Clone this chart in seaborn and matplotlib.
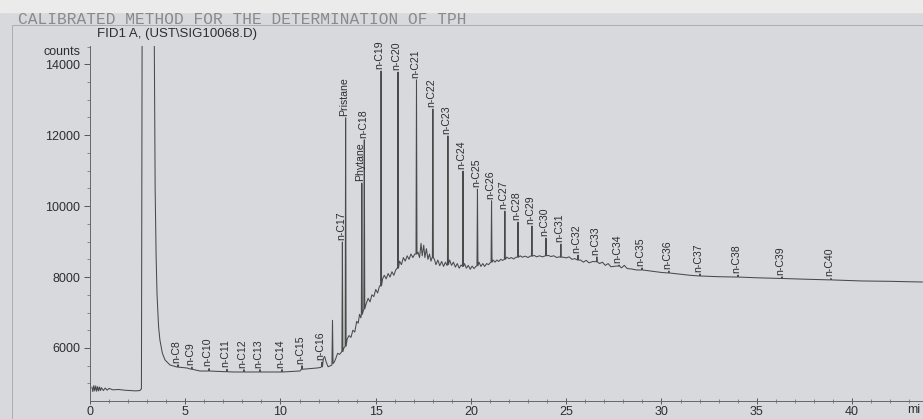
import pandas as pd
import seaborn as sns
import matplotlib.pyplot as plt
from matplotlib.ticker import MultipleLocator
from matplotlib.patches import Rectangle

# baseline of the FID trace (retention time in min, counts)
base_t = [0.10, 0.15, 0.20, 0.25, 0.30, 0.35, 0.40, 0.45, 0.50, 0.55, 0.60, 0.70, 0.80, 0.90, 1.00,
          1.20, 1.50, 1.80, 2.10, 2.40, 2.62, 2.70, 2.74, 3.36, 3.42, 3.47, 3.52, 3.60, 3.67, 3.80,
          3.94, 4.20, 5.09, 5.77, 7.50, 9.60, 11.02, 11.92, 12.10, 12.25, 12.32, 12.40, 12.50, 12.62,
          12.70, 12.73, 12.76, 12.82, 12.90, 13.00, 13.10, 13.18, 13.33, 13.50, 13.60, 13.70, 13.80,
          13.90, 14.00, 14.08, 14.15, 14.22, 14.50, 14.60, 14.70, 14.80, 14.90, 15.00, 15.10, 15.20,
          15.36, 15.45, 15.55, 15.65, 15.75, 15.85, 15.95, 16.05, 16.12, 16.25, 16.35, 16.45, 16.55,
          16.65, 16.75, 16.85, 16.95, 17.05, 17.22, 17.30, 17.38, 17.44, 17.52, 17.58, 17.66, 17.74,
          17.82, 17.90, 17.96, 18.08, 18.16, 18.26, 18.36, 18.46, 18.56, 18.66, 18.74, 18.88, 18.98,
          19.08, 19.18, 19.28, 19.38, 19.48, 19.66, 19.76, 19.86, 19.96, 20.06, 20.16, 20.26, 20.42,
          20.52, 20.62, 20.72, 20.82, 20.92, 21.00, 21.16, 21.26, 21.36, 21.46, 21.56, 21.66, 21.88,
          22.00, 22.12, 22.24, 22.36, 22.58, 22.70, 22.85, 23.00, 23.10, 23.32, 23.45, 23.60, 23.75,
          24.06, 24.20, 24.35, 24.50, 24.62, 24.85, 25.00, 25.15, 25.30, 25.45, 25.75, 25.90, 26.05,
          26.20, 26.40, 26.75, 26.90, 27.05, 27.20, 27.35, 27.50, 27.62, 27.90, 28.05, 28.20, 28.40,
          28.70, 29.30, 29.70, 30.00, 31.00, 31.50, 33.00, 35.00, 37.50, 40.50, 42.00, 43.70]
base_c = [4900, 4770, 4940, 4790, 4930, 4780, 4910, 4790, 4900, 4800, 4880, 4800, 4870, 4810, 4860,
          4820, 4830, 4810, 4800, 4790, 4800, 4850, 16000, 16000, 10500, 8600, 7500, 6600, 6226, 5850,
          5662, 5520, 5436, 5351, 5323, 5323, 5351, 5436, 5450, 5700, 5760, 5600, 5470, 5500,
          5520, 6780, 5560, 5600, 5700, 5850, 5820, 5870, 6000, 6250, 6350, 6300, 6500,
          6450, 6750, 6700, 6950, 6850, 7250, 7400, 7300, 7500, 7450, 7650, 7550, 7750,
          7950, 8050, 7950, 8100, 8000, 8150, 8050, 8200, 8250, 8450, 8350, 8550, 8450,
          8600, 8500, 8650, 8550, 8650, 8700, 8550, 8950, 8600, 8900, 8550, 8800, 8500,
          8650, 8450, 8550, 8500, 8350, 8480, 8320, 8440, 8300, 8420, 8330, 8480, 8330,
          8420, 8280, 8380, 8250, 8340, 8380, 8250, 8330, 8220, 8310, 8240, 8300, 8420,
          8300, 8380, 8300, 8380, 8350, 8400, 8480, 8420, 8480, 8440, 8500, 8470, 8560,
          8520, 8550, 8510, 8560, 8600, 8560, 8590, 8550, 8590, 8610, 8570, 8600, 8570,
          8610, 8580, 8600, 8550, 8570, 8560, 8540, 8570, 8500, 8520, 8480, 8420, 8470,
          8400, 8440, 8380, 8420, 8330, 8380, 8290, 8300, 8310, 8260, 8330, 8240, 8230,
          8200, 8180, 8150, 8130, 8080, 8050, 8010, 7980, 7940, 7890, 7880, 7860]

# named peaks: retention time, foot and apex (counts)
peak_names = ["n-C8", "n-C9", "n-C10", "n-C11", "n-C12", "n-C13", "n-C14", "n-C15", "n-C16",
              "n-C17", "Pristane", "Phytane", "n-C18", "n-C19", "n-C20", "n-C21", "n-C22", "n-C23",
              "n-C24", "n-C25", "n-C26", "n-C27", "n-C28", "n-C29", "n-C30", "n-C31", "n-C32",
              "n-C33", "n-C34", "n-C35", "n-C36", "n-C37", "n-C38", "n-C39", "n-C40"]
peak_t = [4.62, 5.35, 6.25, 7.19, 8.08, 8.92, 10.08, 11.13, 12.18,
          13.25, 13.42, 14.27, 14.40, 15.28, 16.17, 17.14, 18.00, 18.79,
          19.58, 20.34, 21.08, 21.78, 22.47, 23.20, 23.94, 24.72, 25.62,
          26.61, 27.77, 28.98, 30.39, 32.02, 34.02, 36.33, 38.90]
peak_foot = [5460, 5400, 5350, 5330, 5323, 5323, 5323, 5400, 5470,
             5900, 6050, 6950, 7100, 7750, 8250, 8650, 8550, 8350,
             8300, 8320, 8420, 8500, 8560, 8590, 8600, 8560, 8480,
             8430, 8310, 8200, 8115, 8030, 8000, 7960, 7920]
peak_top = [5530, 5460, 5420, 5400, 5390, 5390, 5390, 5500, 5600,
            8990, 12490, 10650, 11870, 13810, 13780, 13560, 12740, 11980,
            10990, 10480, 10150, 9860, 9550, 9440, 9100, 8930, 8620,
            8570, 8340, 8260, 8170, 8090, 8060, 8010, 7960]

# build the trace: baseline points plus a narrow spike for every named peak
rows = list(zip(base_t, base_c))
for t, f, top in zip(peak_t, peak_foot, peak_top):
    rows += [(t - 0.025, f), (t, top), (t + 0.025, f)]
trace = pd.DataFrame(rows, columns=["time", "counts"]).sort_values("time")

sns.set_style("ticks")
plt.rcParams["font.family"] = ["Liberation Sans", "DejaVu Sans"]
ink = "#2e2e2e"
paper = "#d7d9dc"

fig = plt.figure(figsize=(9.23, 4.19), dpi=100, facecolor=paper)
fig.patches.append(Rectangle((0, 1 - 12 / 419), 1, 12 / 419, transform=fig.transFigure,
                             color="#ebebeb", zorder=0))
fig.add_artist(plt.Line2D([12 / 923, 12 / 923, 1], [0, 1 - 25 / 419, 1 - 25 / 419],
                          color="#adadad", lw=0.7))

ax = fig.add_axes([90 / 923, 18 / 419, 833 / 923, 355 / 419])
ax.set_facecolor("none")
sns.lineplot(data=trace, x="time", y="counts", ax=ax, sort=False, estimator=None,
             color="#4a4a4a", linewidth=0.75)

for name, t, top in zip(peak_names, peak_t, peak_top):
    ax.annotate(name, (t, top), xytext=(-1, 1.5), textcoords="offset points",
                rotation=90, ha="center", va="bottom", fontsize=7.6, color=ink)

ax.set_xlim(0, 43.73)
ax.set_ylim(4505, 14516)
ax.xaxis.set_major_locator(MultipleLocator(5))
ax.xaxis.set_minor_locator(MultipleLocator(1))
ax.set_yticks([6000, 8000, 10000, 12000, 14000])
ax.yaxis.set_minor_locator(MultipleLocator(500))
ax.tick_params(axis="x", which="major", direction="inout", length=5, width=0.7, pad=1,
               labelsize=9, colors="#555", labelcolor=ink)
ax.tick_params(axis="x", which="minor", direction="inout", length=3, width=0.6, colors="#777")
ax.tick_params(axis="y", which="major", direction="out", length=4, width=0.7, pad=3,
               labelsize=9, colors="#555", labelcolor=ink)
ax.tick_params(axis="y", which="minor", direction="out", length=2.5, width=0.6, colors="#777")
for side in ["top", "right"]:
    ax.spines[side].set_visible(False)
for side in ["left", "bottom"]:
    ax.spines[side].set_color("#666")
    ax.spines[side].set_linewidth(0.7)
ax.set_xlabel("")
ax.set_ylabel("")

fig.text(18 / 923, 1 - 19.5 / 419, "CALIBRATED METHOD FOR THE DETERMINATION OF TPH",
         family="Liberation Mono", fontsize=11.7, color="#8a8a8a", va="center")
fig.text(97 / 923, 1 - 34.5 / 419, "FID1 A, (UST\\SIG10068.D)", fontsize=9.5, color=ink,
         va="center")
fig.text(80 / 923, 1 - 52 / 419, "counts", fontsize=9, color=ink, ha="right", va="center")
# the axis unit is cut at the edge of the photo, only "mi" shows
fig.text(907 / 923, 1 - 410 / 419, "mi", fontsize=9, color=ink, va="center")

fig.savefig("out.png", dpi=100, facecolor=paper)
